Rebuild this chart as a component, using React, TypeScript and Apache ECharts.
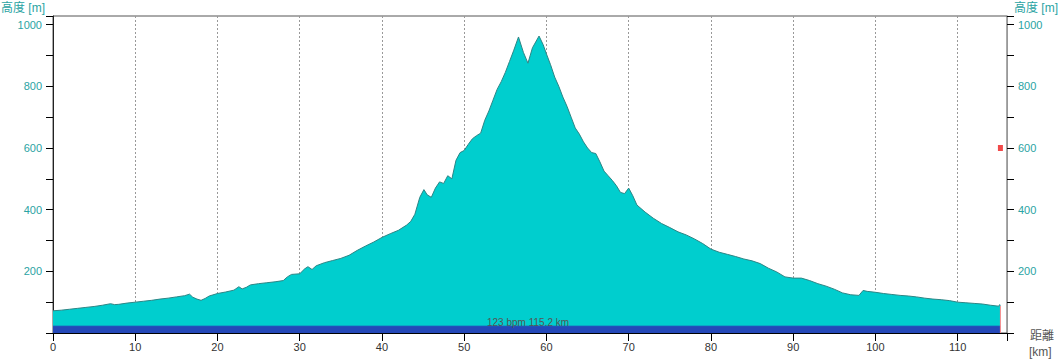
import React, { useEffect, useRef } from "react";
import * as echarts from "echarts";

const distKm: number[] = [
  0, 1, 2, 3, 4, 5, 6, 7, 7.5, 8, 9, 10, 11, 12, 13, 14, 15, 16, 16.6, 17, 17.5, 18, 18.5, 19, 20,
  21, 22, 22.6, 23, 23.5, 24, 25, 26, 27, 28, 28.5, 29, 30, 30.6, 31, 31.5, 32, 33, 34, 35, 36, 37,
  38, 39, 40, 41, 42, 43, 43.5, 44, 44.6, 45.1, 45.5, 46, 46.5, 47, 47.5, 48, 48.5, 49, 49.5, 50,
  50.5, 51, 51.5, 52, 52.5, 53, 53.5, 54, 54.5, 55, 55.5, 56, 56.6, 57.2, 57.75, 58.3, 59.1, 59.6,
  60, 60.5, 61, 61.5, 62, 62.5, 63, 63.5, 64, 64.5, 65, 65.5, 66, 66.5, 67, 67.5, 68, 68.5, 69,
  69.5, 70, 70.5, 71, 72, 73, 74, 75, 76, 77, 78, 79, 80, 81, 82, 83, 84, 85, 86, 87, 88, 89, 90,
  91, 92, 93, 94, 95, 96, 97, 98, 98.5, 99, 100, 101, 102, 103, 104, 105, 106, 107, 108, 109, 110,
  111, 112, 113, 114, 115, 115.1, 115.2,
];
const elevM: number[] = [
  72, 74, 77, 80, 83, 86, 90, 95, 92, 93, 97, 100, 103, 106, 110, 113, 117, 121, 126, 116, 110, 106,
  112, 120, 128, 133, 139, 150, 143, 148, 156, 160, 163, 166, 170, 182, 190, 192, 208, 215, 206, 218,
  228, 235, 242, 252, 268, 282, 295, 310, 322, 333, 350, 362, 385, 440, 465, 448, 440, 470, 490, 485,
  510, 500, 560, 585, 592, 612, 630, 640, 648, 690, 720, 755, 790, 815, 845, 880, 915, 960, 910, 875,
  925, 963, 935, 905, 870, 830, 800, 765, 735, 700, 665, 645, 620, 600, 585, 582, 555, 525, 510, 495,
  478, 456, 452, 470, 445, 415, 392, 372, 355, 342, 328, 318, 305, 290, 272, 262, 255, 248, 240, 234,
  225, 210, 198, 182, 178, 178, 170, 160, 152, 142, 130, 124, 122, 138, 135, 132, 128, 125, 122, 120,
  117, 113, 110, 108, 105, 100, 98, 96, 94, 90, 87, 92, 90,
];
const bandKm: number[] = [0, 115.2];
const bandM: number[] = [22, 22];
const markerKm = 115.2;
const markerM = 600;
const bottomText = "123 bpm 115.2 km";
const yName = "高度 [m]";
const xName1 = "距離";
const xName2 = "[km]";

const FONT = "'Liberation Sans', 'Noto Sans CJK JP', sans-serif";
const TEAL = "#2aa3a3";

export default function App() {
  const ref = useRef<HTMLDivElement>(null);
  useEffect(() => {
    if (!ref.current) return;
    const chart = echarts.init(ref.current, undefined, { renderer: "svg" });
    const profile = distKm.map((d, i) => [d, elevM[i]]);
    const band = bandKm.map((d, i) => [d, bandM[i]]);
    const yAxisCommon = {
      type: "value",
      min: 0,
      max: 1028,
      interval: 100,
      splitLine: { show: false },
      axisTick: { show: true, length: 7, lineStyle: { color: "#000" } },
      axisLabel: {
        color: TEAL,
        fontSize: 11,
        fontFamily: FONT,
        margin: 11,
        formatter: (v: number) => (v > 0 && v % 200 === 0 ? String(v) : ""),
      },
    };
    chart.setOption({
      animation: false,
      grid: {
        left: 53,
        right: 53,
        top: 16,
        bottom: 27,
        show: true,
        borderColor: "#555",
        borderWidth: 1,
        backgroundColor: "#fff",
      },
      xAxis: {
        type: "value",
        min: 0,
        max: 116,
        interval: 10,
        axisLine: { show: true, lineStyle: { color: "#000", width: 1 } },
        axisTick: { show: true, length: 8, lineStyle: { color: "#000" } },
        axisLabel: {
          color: "#333",
          fontSize: 11,
          fontFamily: FONT,
          margin: 8,
          formatter: (v: number) => (v % 10 === 0 ? String(v) : ""),
        },
        splitLine: { show: true, lineStyle: { color: "#999", type: [2, 2], width: 1 } },
      },
      yAxis: [
        {
          ...yAxisCommon,
          position: "left",
          axisLine: { show: true, lineStyle: { color: "#222" } },
        },
        {
          ...yAxisCommon,
          position: "right",
          axisLine: { show: true, lineStyle: { color: "#999" } },
        },
      ],
      series: [
        {
          type: "line",
          data: profile,
          symbol: "none",
          z: 2,
          lineStyle: { color: "#2c8585", width: 1 },
          areaStyle: { color: "#00CECE", opacity: 1 },
        },
        {
          type: "line",
          data: band,
          symbol: "none",
          z: 3,
          lineStyle: { color: "#2448B8", width: 1 },
          areaStyle: { color: "#2448B8", opacity: 1 },
        },
        {
          type: "line",
          data: [
            [markerKm, 0],
            [markerKm, 88],
          ],
          symbol: "none",
          z: 4,
          lineStyle: { color: "#ff8a8a", width: 1 },
        },
        {
          type: "scatter",
          data: [[markerKm, markerM]],
          symbol: "rect",
          symbolSize: [5, 6],
          z: 5,
          itemStyle: { color: "#ee1c1c" },
        },
      ],
      graphic: [
        {
          type: "text",
          left: 1,
          top: 2,
          style: { text: yName, fill: TEAL, fontSize: 12, fontFamily: FONT },
        },
        {
          type: "text",
          left: 1014,
          top: 2,
          style: { text: yName, fill: TEAL, fontSize: 12, fontFamily: FONT },
        },
        {
          type: "text",
          left: 1030,
          top: 330,
          style: { text: xName1, fill: "#555", fontSize: 12, fontFamily: FONT },
        },
        {
          type: "text",
          left: 1029,
          top: 346,
          style: { text: xName2, fill: "#555", fontSize: 12, fontFamily: FONT },
        },
        {
          type: "text",
          left: 487,
          top: 317,
          z: 10,
          style: { text: bottomText, fill: "#555", fontSize: 10, fontFamily: FONT },
        },
      ],
    });
    return () => chart.dispose();
  }, []);
  return (
    <div
      ref={ref}
      style={{ position: "fixed", left: 0, top: 0, width: 1060, height: 360, background: "#fff" }}
    />
  );
}
